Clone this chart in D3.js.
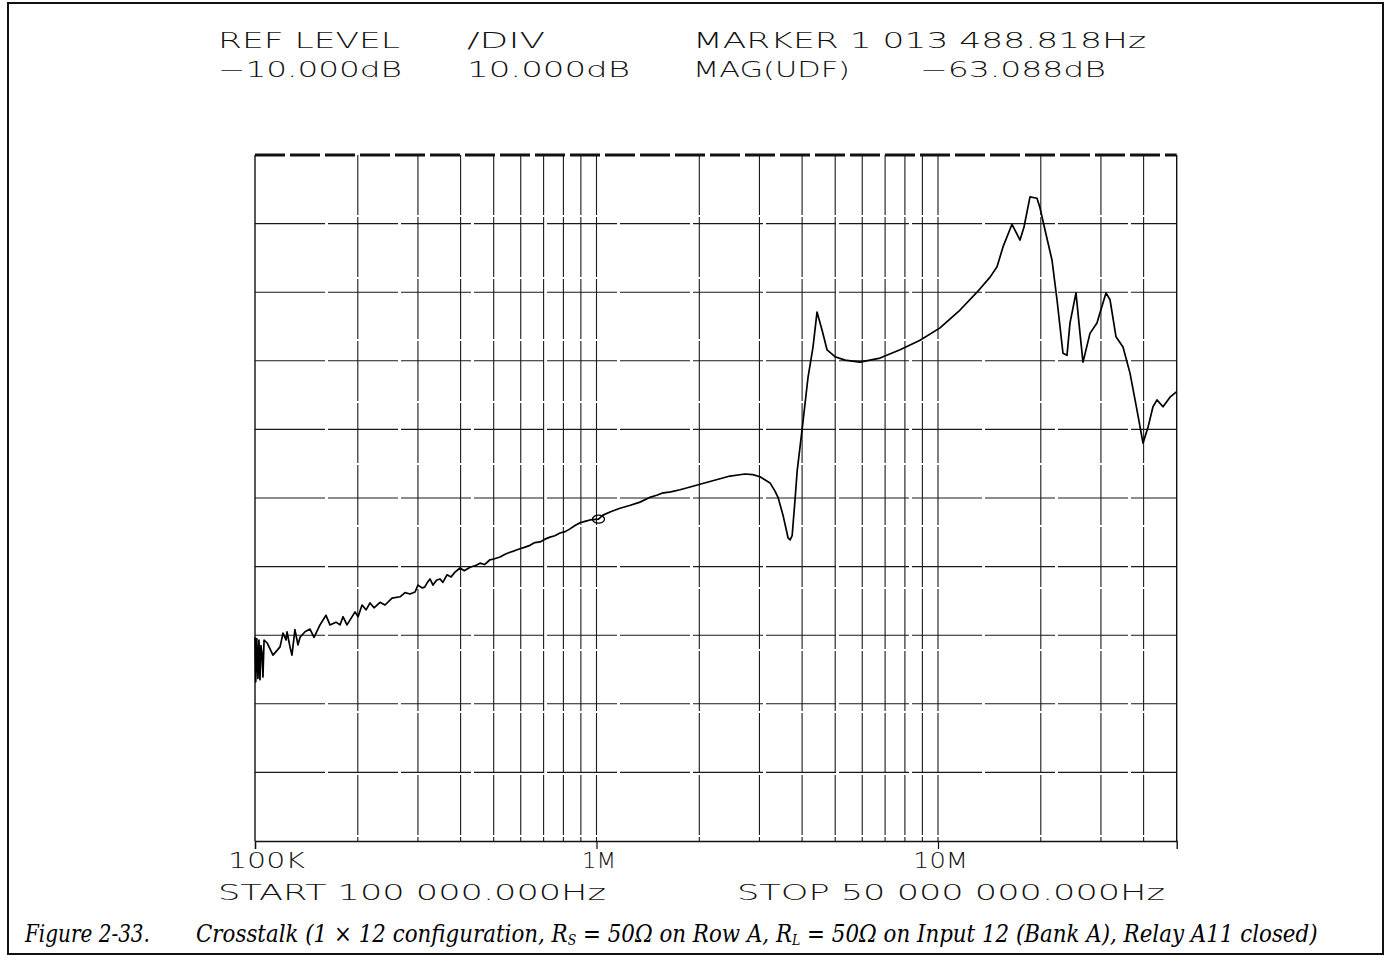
<!DOCTYPE html>
<html>
<head>
<meta charset="utf-8">
<script src="https://cdn.jsdelivr.net/npm/d3@7"></script>
<style>
  html, body { margin: 0; padding: 0; background: #fff; }
  svg { display: block; }
  .plot-text { font-family: "DejaVu Sans", sans-serif; font-weight: 200; fill: #111; }
  .cap { font-family: "DejaVu Serif", "Liberation Serif", serif; font-style: italic; fill: #000; }
</style>
</head>
<body>
<svg id="chart" width="1386" height="955"></svg>
<script>
// ---------------- data ----------------
// frequency in kHz
const freqKHz = [
  100, 100.5, 101.2, 102, 102.7, 103.4, 104.1, 104.8, 105.5, 106.3, 108.4, 112.9, 118.4, 120.8, 123.3, 124.1,
  126.6, 128.3, 130.9, 133.6, 135.5, 140.1, 144.9, 148.9, 155.0, 161.4, 165.8, 172.6, 177.4, 181.0, 185.9,
  189.7, 196.3, 200.4, 205.8, 211.4, 217.2, 223.1, 232.3, 240.3, 251.9, 265.9, 275.0, 284.4, 294.2, 300.2,
  308.4, 314, 318.9, 325.4, 332.1, 340, 348.2, 355, 364.9, 375, 385.2, 398.4, 410, 426.3, 440, 456, 470,
  487.7, 500, 521.8, 540, 558.1, 575, 597, 615, 638.6, 660, 683.2, 706.6, 730.8, 755, 781.8, 810, 836.4,
  865, 894.7, 925, 957.2, 1013.5, 1044.7, 1100, 1171.6, 1250, 1341, 1434, 1500, 1555, 1650, 1756, 1880,
  2010, 2150, 2300, 2460, 2722, 2870, 3011, 3222, 3332, 3400, 3517, 3638, 3690, 3740, 3813, 3870, 3998,
  4163, 4305, 4423, 4575, 4732, 4994, 5342, 5910, 6765, 7744, 8859, 10137, 11600, 13010, 14205, 14890,
  15500, 16470, 17384, 17859, 18595, 19493, 19890, 20570, 21565, 22307, 23226, 23862, 24349, 25355,
  26050, 26580, 27864, 29210, 29810, 31045, 31895, 33210, 34813, 36494, 38254, 39838, 41200, 42610,
  43780, 45590, 47790, 50000
];
// magnitude in dB
const magDB = [
  -80.3, -86.8, -80.5, -86.3, -80.7, -86.5, -81.5, -82.6, -86.1, -80.7, -81.1, -82.9, -81.7, -79.7, -80.7, -79.5,
  -81.7, -82.9, -79.2, -81.4, -80.3, -79.5, -79.1, -80.3, -78.5, -77.1, -78.5, -78.1, -78.5, -77.3, -78.5,
  -77.8, -76.6, -77.3, -75.6, -76.3, -75.3, -76.0, -75.2, -75.6, -74.6, -74.4, -73.8, -74.0, -73.7, -72.7,
  -73.1, -73.0, -72.4, -71.8, -72.7, -72.0, -71.8, -72.3, -71.2, -71.5, -70.8, -70.2, -70.6, -70.1, -69.9, -69.5, -69.7,
  -69.0, -68.9, -68.6, -68.2, -67.9, -67.7, -67.4, -67.2, -66.9, -66.5, -66.4, -66.0, -65.7, -65.5, -65.1, -64.9, -64.5,
  -64.0, -63.6, -63.4, -63.2, -63.088, -62.5, -62.0, -61.5, -61.1, -60.6, -59.9, -59.6, -59.3, -59.1, -58.8, -58.4,
  -58.0, -57.6, -57.2, -56.8, -56.5, -56.6, -56.9, -57.8, -59.0, -59.9, -62.5, -65.8, -66.1, -65.5, -60.3, -56.0, -50.1,
  -42.4, -38.0, -32.9, -35.5, -38.4, -39.4, -39.9, -40.2, -39.6, -38.4, -37.0, -35.2, -32.6, -30.0, -27.8, -26.3,
  -23.4, -20.1, -22.4, -20.5, -16.1, -16.3, -17.7, -20.9, -25.3, -31.1, -38.9, -39.2, -34.5, -30.1,
  -36.0, -40.2, -36.0, -34.5, -33.0, -30.1, -31.1, -36.5, -38.0, -41.8, -47.2, -52.0, -49.7, -46.7,
  -45.7, -46.7, -45.3, -44.5
];
const markerKHz = 1013.488818;
const markerDB = -63.088;

const headerLine1 = ["REF LEVEL", "/DIV", "MARKER 1 013 488.818Hz"];
const headerLine2 = ["\u221210.000dB", "10.000dB", "MAG(UDF)", "\u221263.088dB"];
const xTickValues = [1e5, 1e6, 1e7];
const xTickLabels = ["100K", "1M", "10M"];
const startLabel = "START 100 000.000Hz";
const stopLabel = "STOP 50 000 000.000Hz";
const refLevel = -10;
const dbPerDiv = 10;
const divisions = 10;

// ---------------- layout ----------------
const svg = d3.select("#chart");
const L = 255, R = 1176.7, T = 155, B = 841;

const x = d3.scaleLog().domain([1e5, 5e7]).range([L, R]);
const y = d3.scaleLinear().domain([refLevel, refLevel - dbPerDiv * divisions]).range([T, B]);

// outer frame
svg.append("rect").attr("x", 8).attr("y", 3).attr("width", 1375).attr("height", 951)
  .attr("fill", "none").attr("stroke", "#111").attr("stroke-width", 2);

// grid - vertical log lines
const vLines = [];
for (let dec = 1e5; dec < 5e7; dec *= 10) {
  for (let m = 1; m <= 9; m++) {
    const f = dec * m;
    if (f > 1e5 && f < 5e7) vLines.push(f);
  }
}
const grid = svg.append("g").attr("stroke", "#1a1a1a").attr("stroke-width", 1.1).attr("fill", "none");
grid.selectAll("line.v").data(vLines).join("line").attr("class", "v")
  .attr("x1", d => x(d)).attr("x2", d => x(d)).attr("y1", T).attr("y2", B)
  .attr("stroke-dasharray", "60,2");
const hVals = d3.range(1, divisions).map(i => refLevel - i * dbPerDiv);
grid.selectAll("line.h").data(hVals).join("line").attr("class", "h")
  .attr("x1", L).attr("x2", R).attr("y1", d => y(d)).attr("y2", d => y(d))
  .attr("stroke-dasharray", "70,3");

// frame of plot
svg.append("line").attr("x1", L).attr("x2", L).attr("y1", T).attr("y2", B).attr("stroke", "#111").attr("stroke-width", 1.4);
svg.append("line").attr("x1", R).attr("x2", R).attr("y1", T).attr("y2", B).attr("stroke", "#111").attr("stroke-width", 1.4);
svg.append("line").attr("x1", L).attr("x2", R).attr("y1", T).attr("y2", T)
  .attr("stroke", "#111").attr("stroke-width", 3).attr("stroke-dasharray", "30,5");

// bottom axis
const xAxis = d3.axisBottom(x).tickValues(xTickValues).tickSize(8)
  .tickFormat((d, i) => xTickLabels[i]);
const axG = svg.append("g").attr("transform", `translate(0,${B})`).call(xAxis);
axG.select(".domain").attr("stroke", "#111").attr("stroke-width", 1.4);
axG.selectAll(".tick line").attr("stroke", "#111").attr("stroke-width", 1.2);
const tickWidths = [77, 34, 55];
const tickShift = [11, 2, 2];
axG.selectAll(".tick text")
  .attr("class", "plot-text")
  .attr("font-size", 21).attr("fill", "#111")
  .attr("y", 27).attr("dy", 0)
  .attr("dx", (d, i) => tickShift[i])
  .attr("textLength", (d, i) => tickWidths[i])
  .attr("lengthAdjust", "spacingAndGlyphs");

// trace
const pts = freqKHz.map((f, i) => [f * 1000, magDB[i]]);
const line = d3.line().x(d => x(d[0])).y(d => y(d[1]));
svg.append("path").datum(pts).attr("d", line)
  .attr("fill", "none").attr("stroke", "#000").attr("stroke-width", 1.7)
  .attr("stroke-linejoin", "round");

// marker
svg.append("ellipse").attr("cx", x(markerKHz * 1000)).attr("cy", y(markerDB))
  .attr("rx", 6).attr("ry", 4).attr("fill", "none").attr("stroke", "#000").attr("stroke-width", 1.3);

// header texts
function ptext(str, px, py, len, size) {
  svg.append("text").attr("class", "plot-text").attr("x", px).attr("y", py)
    .attr("font-size", size).attr("textLength", len).attr("lengthAdjust", "spacingAndGlyphs")
    .text(str);
}
ptext(headerLine1[0], 218, 48, 182, 22);
ptext(headerLine1[1], 467, 48, 78, 22);
ptext(headerLine1[2], 693, 48, 453, 22);
ptext(headerLine2[0], 218, 77, 184, 22);
ptext(headerLine2[1], 467, 77, 163, 22);
ptext(headerLine2[2], 693, 77, 157, 22);
ptext(headerLine2[3], 920, 77, 186, 22);
ptext(startLabel, 218, 900, 388, 22);
ptext(stopLabel, 737, 900, 428, 22);

// caption
function fitX(sel, x0, y0, target) {
  const w = sel.node().getComputedTextLength();
  if (w > 0) sel.attr("transform", `translate(${x0},${y0}) scale(${target / w},1) translate(${-x0},${-y0})`);
}
const cap = svg.append("text").attr("class", "cap").attr("x", 25).attr("y", 942).attr("font-size", 24);
cap.text("Figure 2-33.");
fitX(cap, 25, 942, 125);
const cap2 = svg.append("text").attr("class", "cap").attr("x", 196).attr("y", 942).attr("font-size", 24);
cap2.append("tspan").text("Crosstalk (1 \u00d7 12 configuration, R");
cap2.append("tspan").attr("font-size", 14).attr("dy", 3).text("S");
cap2.append("tspan").attr("dy", -3).text(" = 50\u03a9 on Row A, R");
cap2.append("tspan").attr("font-size", 14).attr("dy", 3).text("L");
cap2.append("tspan").attr("dy", -3).text(" = 50\u03a9 on Input 12 (Bank A), Relay A11 closed)");
fitX(cap2, 196, 942, 1122);
</script>
</body>
</html>
